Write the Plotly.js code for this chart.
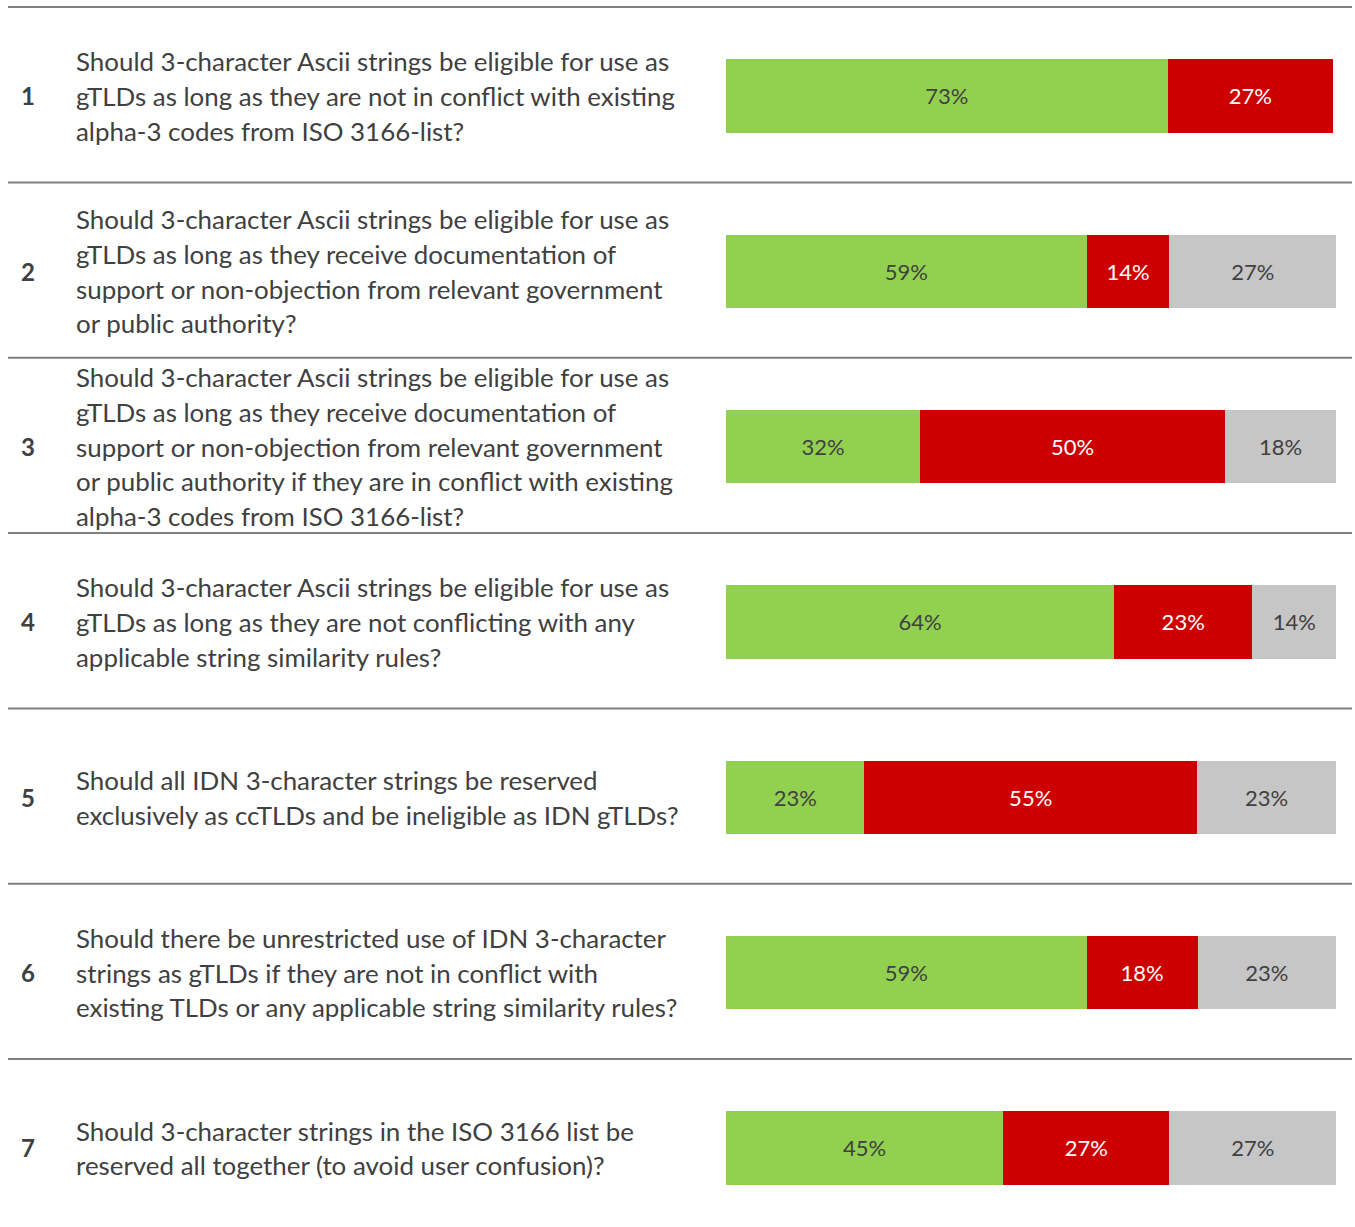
<!DOCTYPE html>
<html>
<head>
<meta charset="utf-8">
<script src="https://cdn.plot.ly/plotly-3.0.1.min.js"></script>
<style>html,body{margin:0;padding:0;background:#fff;}#chart{width:1355px;height:1227px;}</style>
</head>
<body>
<div id="chart"></div>
<script>
// ---- data ----
const rowNumbers = ["1", "2", "3", "4", "5", "6", "7"];
const questions = [
  ["Should 3-character Ascii strings be eligible for use as", "gTLDs as long as they are not in conflict with existing", "alpha-3 codes from ISO 3166-list?"],
  ["Should 3-character Ascii strings be eligible for use as", "gTLDs as long as they receive documentation of", "support or non-objection from relevant government", "or public authority?"],
  ["Should 3-character Ascii strings be eligible for use as", "gTLDs as long as they receive documentation of", "support or non-objection from relevant government", "or public authority if they are in conflict with existing", "alpha-3 codes from ISO 3166-list?"],
  ["Should 3-character Ascii strings be eligible for use as", "gTLDs as long as they are not conflicting with any", "applicable string similarity rules?"],
  ["Should all IDN 3-character strings be reserved", "exclusively as ccTLDs and be ineligible as IDN gTLDs?"],
  ["Should there be unrestricted use of IDN 3-character", "strings as gTLDs if they are not in conflict with", "existing TLDs or any applicable string similarity rules?"],
  ["Should 3-character strings in the ISO 3166 list be", "reserved all together (to avoid user confusion)?"]
];
const yesValues     = [72.4, 59.1, 31.8, 63.6, 22.7, 59.1, 45.4];
const noValues      = [27.1, 13.6, 50.0, 22.7, 54.5, 18.2, 27.3];
const neutralValues = [0,    27.3, 18.2, 13.7, 22.8, 22.7, 27.3];
const yesLabels     = ["73%", "59%", "32%", "64%", "23%", "59%", "45%"];
const noLabels      = ["27%", "14%", "50%", "23%", "55%", "18%", "27%"];
const neutralLabels = ["",    "27%", "18%", "14%", "23%", "23%", "27%"];

// ---- chart ----
const W = 1355, H = 1227;
const rowIdx = rowNumbers.map((_, i) => i + 1);
const labelFont = {family: "Lato, 'Noto Sans', sans-serif", size: 22};
const barWidth = 0.42;
const xMax = 101;

function barTrace(vals, labels, color, textColor) {
  return {
    type: "bar", orientation: "h",
    x: vals, y: rowIdx,
    width: barWidth,
    marker: {color: color, line: {width: 0}},
    text: labels, textposition: "inside", insidetextanchor: "middle",
    textangle: 0,
    textfont: Object.assign({}, labelFont, {color: textColor}),
    constraintext: "none",
    hoverinfo: "skip", showlegend: false, cliponaxis: false
  };
}

const traces = [
  barTrace(yesValues, yesLabels, "#92D050", "#404040"),
  barTrace(noValues, noLabels, "#CC0000", "#FFFFFF"),
  barTrace(neutralValues, neutralLabels, "#C6C6C6", "#404040")
];

const shapes = [];
const annotations = [];
const lineGap = 34.6;
rowIdx.forEach((r, i) => {
  shapes.push({
    type: "line", xref: "paper", yref: "y",
    x0: 8 / W, x1: 1352 / W, y0: r - 0.507, y1: r - 0.507,
    line: {color: "#7F7F7F", width: 2}
  });
  annotations.push({
    xref: "paper", yref: "y", x: 28 / W, y: r,
    text: "<b>" + rowNumbers[i] + "</b>", showarrow: false,
    xanchor: "center", yanchor: "middle",
    font: {family: "Lato, 'Noto Sans', sans-serif", size: 24, color: "#404040"}
  });
  const lines = questions[i];
  const n = lines.length;
  lines.forEach((ln, j) => {
    annotations.push({
      xref: "paper", yref: "y", x: 74 / W, y: r,
      yshift: -((j - (n - 1) / 2) * lineGap),
      text: ln, showarrow: false,
      xanchor: "left", yanchor: "middle", align: "left",
      font: {family: "Lato, 'Noto Sans', sans-serif", size: 25.9, color: "#404040"}
    });
  });
});

const layout = {
  width: W, height: H,
  margin: {l: 0, r: 0, t: 0, b: 0, pad: 0},
  paper_bgcolor: "#FFFFFF", plot_bgcolor: "rgba(0,0,0,0)",
  barmode: "stack",
  showlegend: false,
  xaxis: {domain: [726 / W, (726 + 610 * xMax / 100) / W], range: [0, xMax], visible: false, fixedrange: true},
  yaxis: {range: [7.4506, 0.4525], visible: false, fixedrange: true},
  shapes: shapes,
  annotations: annotations,
  uniformtext: {mode: false}
};

Plotly.newPlot("chart", traces, layout, {displayModeBar: false, staticPlot: true});
</script>
</body>
</html>
